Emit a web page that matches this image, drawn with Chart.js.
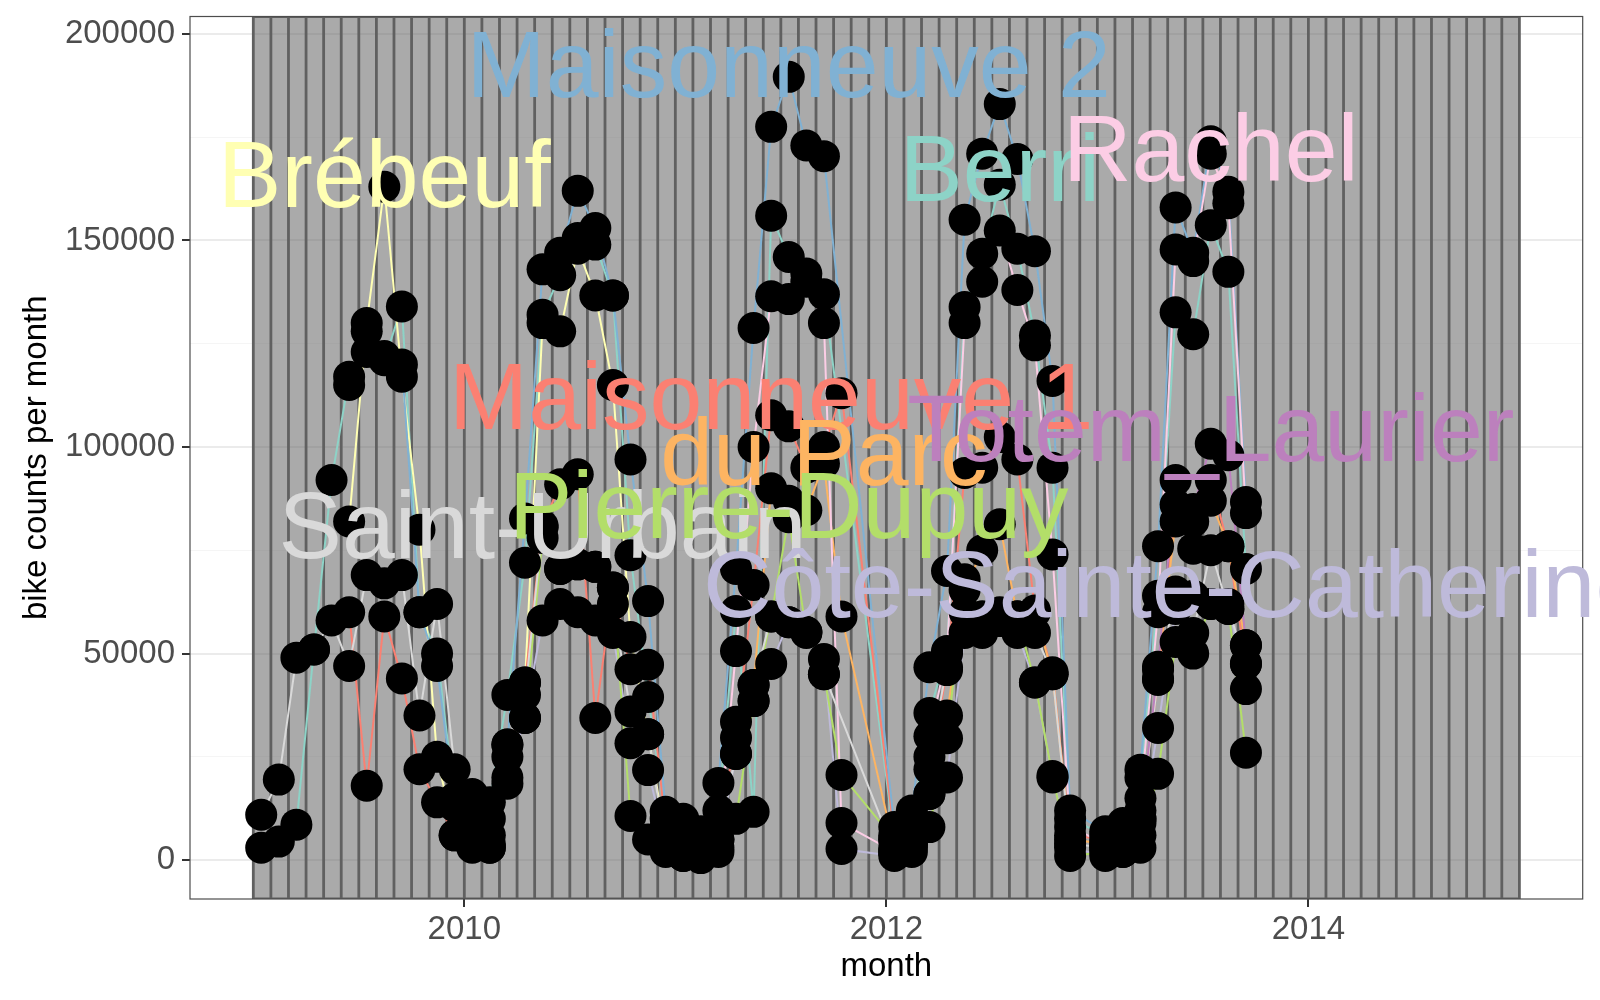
<!DOCTYPE html>
<html>
<head>
<meta charset="utf-8">
<script src="https://cdn.jsdelivr.net/npm/chart.js@4.4.0/dist/chart.umd.min.js"></script>
<style>
  html, body { margin: 0; padding: 0; background: #ffffff; }
  #wrap { width: 1600px; height: 1000px; }
</style>
</head>
<body>
<div id="wrap"><canvas id="bikeChart" width="1600" height="1000"></canvas></div>
<script>
// Monthly bike counts (thousands), index 0 = 2009-01 ... index 56 = 2013-09
const startYear = 2009;
const n = null;

const seriesNames = ["Berri", "Brébeuf", "Côte-Sainte-Catherine", "Maisonneuve 1", "Maisonneuve 2",
  "du Parc", "Pierre-Dupuy", "Rachel", "Saint-Urbain", "Totem_Laurier"];
const seriesColors = ["#8DD3C7", "#FFFFB3", "#BEBADA", "#FB8072", "#80B1D3",
  "#FDB462", "#B3DE69", "#FCCDE5", "#D9D9D9", "#BC80BD"];

const berri = [3, 4.5, 8.6, 51, 92, 117, 123, 121, 134, 60, 50, 15,
  16, 14, 40, 72, 132, 141.6, 150.6, 149, 136.7, 73.8, 39.5, 10,
  5, 4, 12, 60.3, 11.7, 156, 146, 142, 137, n, n, n,
  5, 8.5, 35.6, 50.6, 133.9, 146.8, 163.5, 148, 127, 95, 10, n,
  6, 8, 20, 64, 132.6, 127.3, 153.7, 142.4, 70.5];
const brebeuf = [n, n, n, n, n, 82, 130, 163, 117, 80, 25, 6,
  4, 3, 18.5, 43, 130, 128, 148, 136.7, 115, 54, 30.5, 5,
  n, n, n, n, n, n, n, n, n, n, n, n,
  n, n, n, n, n, n, n, n, n, n, n, n,
  n, n, n, n, n, n, n, n, n];
const coteSteCatherine = [n, n, n, n, n, n, n, n, n, n, n, n,
  3, 3, 20, 34.4, 58, 62, 60, 58, 55, 28.3, 21.8, 4,
  1, 0.5, 3, 25.7, 38.5, 47.5, 57.6, 55.2, 48.7, 2.7, n, n,
  1, 2, 16, 20, 55, 55, 57.9, 55, 43, 20, 3, n,
  1, 2, 6, 32, 60.8, 64, 62, 62, 41.4];
const maisonneuve1 = [n, n, n, n, n, 60, 18, 59, 44, 22, 14, 6,
  8, 6, 25, 43, 81, 91, 93.4, 34.4, 66, 46.2, 47.3, 8,
  10, 7, 8, 29.6, 66.6, 107.7, 105, 95, 100, 113, n, n,
  6, 7, 22, 46, 93.7, 95, 102.4, 97, 60.4, 45.5, 6, n,
  5, 6, 12, 43.6, 86, 75.4, 92, 76, 47.5];
const maisonneuve2 = [n, n, n, n, n, 115, 128, 122, 120, 60, 47, 13,
  11, 10, 28, 82.7, 143, 147, 162, 153, 136.7, 97, 62.7, 11.7,
  8, 6, 18.7, 70.5, 128.8, 177.5, 189.6, 173, 170.4, n, n, n,
  8, 12, 46.7, 70, 155, 171, 183, 169.7, 147.4, 116, 12, n,
  7, 9, 21.9, 76, 158, 147, 174, 161.8, 86.7];
const duParc = [n, n, n, n, n, n, n, n, n, n, n, n,
  n, n, n, n, n, n, n, n, n, n, n, n,
  n, n, n, 33.5, 42.4, 90, 87, 84.7, 96, 59, n, n,
  3, 4, 16, 35, 65.4, 75, 81.3, 59, 60, 45, 5, n,
  4, 5, 9, 46, 82, 82, 87, 76, 52];
const pierreDupuy = [n, n, n, n, n, n, n, n, n, n, n, n,
  n, n, n, 34.4, 78, 70.5, 71.6, 71, 66, 10.7, 5, 2,
  1, 1, 2, 10, 38.5, 59, 83, 55.2, 45, 20.6, n, n,
  5, 3, 8, 29.5, 68, 59, 57.9, 59, 43, 20.4, 1, n,
  2, 2, 3, 20.9, 52.8, 50, 62, 60.8, 26];
const rachel = [n, n, n, n, n, n, n, n, n, n, n, n,
  n, n, n, n, n, n, n, n, n, n, n, n,
  2, 1, 5, 50.6, 100, 136.5, 135.8, 140, 130, 9, n, n,
  2, 5, 30, 50, 130, 140, 152.4, 138, 124.6, 74, 8, n,
  4, 6, 15, 60, 147.8, 145, 171, 159, 84];
const saintUrbain = [11, 19.5, 49, 51, 58, 47, 69, 67, 69, 35, 62, 22,
  5, 4, 28, 40, 80.6, 70.5, 71.6, 71, 62, 36, 30.5, 3,
  3, 2, 5, 25.7, 42.4, 59, 57.6, 55, 45, n, n, n,
  2, 4, 25, 46.7, 60, 59, 60, 59, 55, 45, 4, n,
  3, 4, 10, 44, 65, 55, 75, 60.8, 47.5];
const totemLaurier = [n, n, n, n, n, n, n, n, n, n, n, n,
  n, n, n, n, n, n, n, n, n, n, n, n,
  n, n, n, n, n, n, n, n, n, n, n, n,
  n, n, n, n, n, n, n, n, n, n, n, n,
  3, 4, 10, 46.8, 92, 85, 100.8, 98, 52];

const seriesValues = [berri, brebeuf, coteSteCatherine, maisonneuve1, maisonneuve2,
  duParc, pierreDupuy, rachel, saintUrbain, totemLaurier];

// where each name is written: month index and value (thousands)
const labelMonth = [42, 7, 52, 29, 30, 32, 30, 54, 16, 54];
const labelValue = [167.7, 166.3, 67.1, 112.7, 192.9, 99.1, 86.2, 172.7, 81.4, 104.8];
// stacking of the names (last one on top)
const labelOrder = [0, 1, 3, 4, 5, 8, 6, 2, 7, 9];

// background month blocks: 2009-01 .. 2014-12
const shadeFrom = 2009;
const shadeTo = 2015;

const xTicks = [2009, 2010, 2011, 2012, 2013, 2014, 2015];
const yTicks = [0, 25, 50, 75, 100, 125, 150, 175, 200];

const FONT = '"Liberation Sans", Arial, Helvetica, sans-serif';

// mid-month position on a decimal-year axis
const monthX = (i) => startYear + (i + 0.45) / 12;

const lineSets = seriesValues.map((vals, k) => ({
  type: 'line',
  label: seriesNames[k],
  data: vals.map((v, i) => ({ x: monthX(i), y: v })).filter((p) => p.y !== null),
  borderColor: seriesColors[k],
  borderWidth: 2,
  pointRadius: 0,
  fill: false,
  tension: 0,
  order: 20 - k,
}));

const pointSet = {
  type: 'scatter',
  label: 'points',
  data: seriesValues.flatMap((vals) =>
    vals.map((v, i) => ({ x: monthX(i), y: v })).filter((p) => p.y !== null)),
  backgroundColor: '#000000',
  borderWidth: 0,
  pointRadius: 16,
  pointHoverRadius: 16,
  order: 0,
};

const monthShading = {
  id: 'monthShading',
  beforeDatasetsDraw(chart) {
    const { ctx, chartArea, scales: { x } } = chart;
    ctx.save();
    ctx.beginPath();
    ctx.rect(chartArea.left, chartArea.top, chartArea.width, chartArea.height);
    ctx.clip();
    const total = (shadeTo - shadeFrom) * 12;
    ctx.fillStyle = 'rgba(100,100,100,0.55)';
    for (let m = 0; m < total; m++) {
      const x0 = x.getPixelForValue(shadeFrom + m / 12);
      const x1 = x.getPixelForValue(shadeFrom + (m + 1) / 12);
      ctx.fillRect(x0, chartArea.top, x1 - x0, chartArea.height);
    }
    ctx.strokeStyle = '#606060';
    ctx.lineWidth = 2.8;
    ctx.beginPath();
    for (let m = 0; m <= total; m++) {
      const xx = x.getPixelForValue(shadeFrom + m / 12);
      ctx.moveTo(xx, chartArea.top);
      ctx.lineTo(xx, chartArea.bottom);
    }
    const xa = x.getPixelForValue(shadeFrom);
    const xb = x.getPixelForValue(shadeTo);
    ctx.moveTo(xa, chartArea.top);
    ctx.lineTo(xb, chartArea.top);
    ctx.moveTo(xa, chartArea.bottom);
    ctx.lineTo(xb, chartArea.bottom);
    ctx.stroke();
    ctx.restore();
  },
};

const seriesLabels = {
  id: 'seriesLabels',
  afterDatasetsDraw(chart) {
    const { ctx, chartArea, scales: { x, y } } = chart;
    ctx.save();
    // panel border
    ctx.strokeStyle = '#4d4d4d';
    ctx.lineWidth = 1.2;
    ctx.strokeRect(chartArea.left, chartArea.top, chartArea.width, chartArea.height);
    const size = 95;
    ctx.font = size + 'px ' + FONT;
    ctx.textAlign = 'center';
    ctx.textBaseline = 'alphabetic';
    labelOrder.forEach((k) => {
      const px = x.getPixelForValue(monthX(labelMonth[k]));
      const py = y.getPixelForValue(labelValue[k]) + size * 0.358;
      ctx.fillStyle = seriesColors[k];
      ctx.fillText(seriesNames[k], px, py);
    });
    ctx.restore();
  },
};

new Chart(document.getElementById('bikeChart'), {
  data: { datasets: [...lineSets, pointSet] },
  options: {
    responsive: false,
    animation: false,
    devicePixelRatio: 1,
    layout: { padding: { top: 16.5, right: 17.3, left: 0, bottom: 0 } },
    plugins: { legend: { display: false }, tooltip: { enabled: false } },
    scales: {
      x: {
        type: 'linear',
        min: 2008.7,
        max: 2015.3,
        afterBuildTicks: (scale) => { scale.ticks = xTicks.map((v) => ({ value: v })); },
        afterFit: (scale) => {
          scale.height = 101;
          scale.paddingLeft = 0;
          scale.paddingRight = 0;
        },
        ticks: {
          autoSkip: false,
          maxRotation: 0,
          padding: 3,
          color: '#4d4d4d',
          font: { family: FONT, size: 33 },
          callback: (v) => (v % 2 === 0 ? String(v) : ''),
        },
        grid: {
          color: (c) => (c.tick && c.tick.value % 2 === 0 ? '#ebebeb' : '#f5f5f5'),
          lineWidth: (c) => (c.tick && c.tick.value % 2 === 0 ? 2 : 1),
          tickLength: 8,
          tickColor: (c) => (c.tick && c.tick.value % 2 === 0 ? '#333333' : 'rgba(0,0,0,0)'),
          tickWidth: 2,
        },
        border: { display: false },
        title: {
          display: true,
          text: 'month',
          color: '#000000',
          font: { family: FONT, size: 33 },
          padding: { top: 0, bottom: 13 },
        },
      },
      y: {
        type: 'linear',
        min: -9.4,
        max: 204.2,
        afterBuildTicks: (scale) => { scale.ticks = yTicks.map((v) => ({ value: v })); },
        afterFit: (scale) => {
          scale.width = 190;
          scale.paddingTop = 0;
          scale.paddingBottom = 0;
        },
        ticks: {
          autoSkip: false,
          padding: 7,
          color: '#4d4d4d',
          font: { family: FONT, size: 33 },
          callback: (v) => (v % 50 === 0 ? String(v * 1000) : ''),
        },
        grid: {
          color: (c) => (c.tick && c.tick.value % 50 === 0 ? '#ebebeb' : '#f5f5f5'),
          lineWidth: (c) => (c.tick && c.tick.value % 50 === 0 ? 2 : 1),
          tickLength: 8,
          tickColor: (c) => (c.tick && c.tick.value % 50 === 0 ? '#333333' : 'rgba(0,0,0,0)'),
          tickWidth: 2,
        },
        border: { display: false },
        title: {
          display: true,
          text: 'bike counts per month',
          color: '#000000',
          font: { family: FONT, size: 33 },
          padding: { top: 17, bottom: 0 },
        },
      },
    },
  },
  plugins: [monthShading, seriesLabels],
});
</script>
</body>
</html>
